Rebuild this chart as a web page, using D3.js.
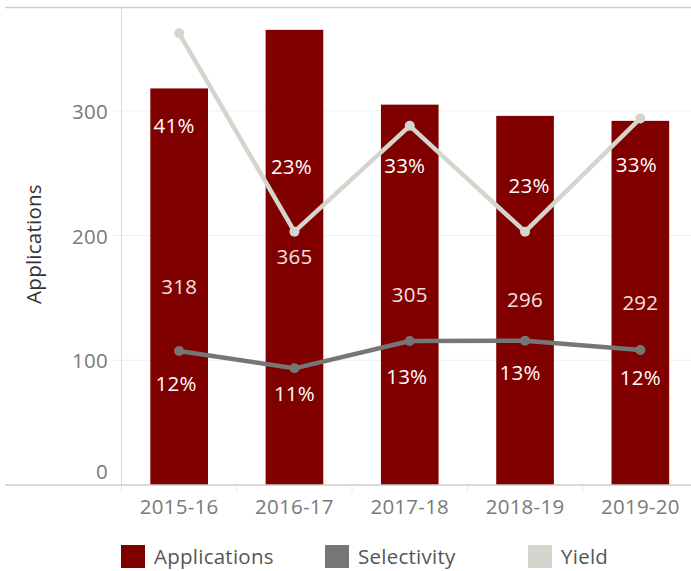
<!DOCTYPE html>
<html>
<head>
<meta charset="utf-8">
<script src="https://cdn.jsdelivr.net/npm/d3@7"></script>
<style>
  html, body { margin: 0; padding: 0; background: #fff; }
  svg { display: block; font-family: "Open Sans", sans-serif; letter-spacing: 0.25px; }
</style>
</head>
<body>
<svg id="chart" width="691" height="571"></svg>
<script>
// ---- data ----
const years = ["2015-16", "2016-17", "2017-18", "2018-19", "2019-20"];
const applications = [318, 365, 305, 296, 292];
const selectivity = [12.16, 10.59, 13.07, 13.1, 12.25];   // percent
const yieldPct = [41.0, 23.0, 32.6, 23.0, 33.28];          // percent
const yTicks = [0, 100, 200, 300];
const legendItems = ["Applications", "Selectivity", "Yield"];

// ---- layout ----
const W = 691, H = 571;
const plotLeft = 121.5, plotRight = 698, plotTop = 8, plotBottom = 485;
const FS = 20.5;
const colors = { Applications: "#800000", Selectivity: "#767676", Yield: "#d5d5cd" };
// label placement offsets (manual, as in the original)
const yieldLabelOff = [[-5, 93], [-3, -65], [-5, 40], [4, -46], [-4, 47]];
const selLabelOff = [[-3, 33], [0, 26], [-3, 36], [-5, 32], [0, 28]];

const svg = d3.select("#chart");

const x = d3.scaleBand().domain(years).range([plotLeft, plotRight]).paddingInner(0.5).paddingOuter(0.25);
const y = d3.scaleLinear().domain([0, 382.5]).range([plotBottom, plotTop]);
const y2 = d3.scaleLinear().domain([0, 43.3]).range([plotBottom, plotTop]);
const cx = d => x(d) + x.bandwidth() / 2;

// gridlines + tick marks
svg.append("g").selectAll("line").data(yTicks.filter(t => t > 0)).join("line")
  .attr("x1", 113).attr("x2", W).attr("y1", d => y(d)).attr("y2", d => y(d))
  .attr("stroke", "#efefef").attr("stroke-width", 1);

// top border
svg.append("line").attr("x1", 5).attr("x2", W).attr("y1", 7.5).attr("y2", 7.5)
  .attr("stroke", "#d0d0d0").attr("stroke-width", 1.5);
// vertical axis line
svg.append("line").attr("x1", plotLeft).attr("x2", plotLeft).attr("y1", plotTop).attr("y2", plotBottom)
  .attr("stroke", "#d8d8d8").attr("stroke-width", 1);
// category dividers below baseline
const step = x.step();
svg.append("g").selectAll("line").data(years).join("line")
  .attr("x1", d => x(d) - x.paddingOuter() * step).attr("x2", d => x(d) - x.paddingOuter() * step)
  .attr("y1", plotBottom).attr("y2", plotBottom + 8)
  .attr("stroke", "#ebebeb").attr("stroke-width", 1);

// y tick labels
svg.append("g").selectAll("text").data(yTicks).join("text")
  .attr("x", 108).attr("y", d => d === 0 ? y(d) - 6 : y(d) + 8)
  .attr("text-anchor", "end").attr("font-size", FS).attr("fill", "#7a7a7a")
  .text(d => d3.format("d")(d));

// axis title
svg.append("text").attr("transform", `translate(41,244) rotate(-90)`)
  .attr("text-anchor", "middle").attr("font-size", FS).attr("fill", "#333")
  .text("Applications");

// bars
svg.append("g").selectAll("rect").data(years).join("rect")
  .attr("x", d => x(d)).attr("width", x.bandwidth())
  .attr("y", (d, i) => y(applications[i])).attr("height", (d, i) => y(0) - y(applications[i]))
  .attr("fill", colors.Applications);

// baseline
svg.append("line").attr("x1", 5).attr("x2", W).attr("y1", plotBottom).attr("y2", plotBottom)
  .attr("stroke", "#cccccc").attr("stroke-width", 1.5);

// bar labels
svg.append("g").selectAll("text").data(years).join("text")
  .attr("x", d => cx(d))
  .attr("y", (d, i) => (y(applications[i]) + y(0)) / 2 + 7)
  .attr("text-anchor", "middle").attr("font-size", FS).attr("fill", "#f0e2e2")
  .text((d, i) => applications[i]);

// x labels
svg.append("g").selectAll("text").data(years).join("text")
  .attr("x", d => cx(d)).attr("y", 514)
  .attr("text-anchor", "middle").attr("font-size", FS).attr("fill", "#7a7a7a")
  .text(d => d);

// lines
function drawLine(vals, color) {
  const line = d3.line().x((d, i) => cx(years[i])).y(d => y2(d));
  svg.append("path").datum(vals).attr("d", line)
    .attr("fill", "none").attr("stroke", color).attr("stroke-width", 4.5)
    .attr("stroke-linejoin", "round");
  svg.append("g").selectAll("circle").data(vals).join("circle")
    .attr("cx", (d, i) => cx(years[i])).attr("cy", d => y2(d)).attr("r", 5)
    .attr("fill", color);
}
drawLine(yieldPct, colors.Yield);
drawLine(selectivity, colors.Selectivity);

function drawPctLabels(vals, offs) {
  svg.append("g").selectAll("text").data(vals).join("text")
    .attr("x", (d, i) => cx(years[i]) + offs[i][0])
    .attr("y", (d, i) => y2(d) + offs[i][1] + 7)
    .attr("text-anchor", "middle").attr("font-size", FS).attr("fill", "#ffffff")
    .text(d => Math.round(d) + "%");
}
drawPctLabels(yieldPct, yieldLabelOff);
drawPctLabels(selectivity, selLabelOff);

// legend
const legendX = [121, 325, 528];
const lg = svg.append("g").selectAll("g").data(legendItems).join("g")
  .attr("transform", (d, i) => `translate(${legendX[i]},545)`);
lg.append("rect").attr("width", 24).attr("height", 23).attr("fill", d => colors[d]);
lg.append("text").attr("x", 33).attr("y", 19).attr("font-size", FS).attr("fill", "#555")
  .text(d => d);
</script>
</body>
</html>
